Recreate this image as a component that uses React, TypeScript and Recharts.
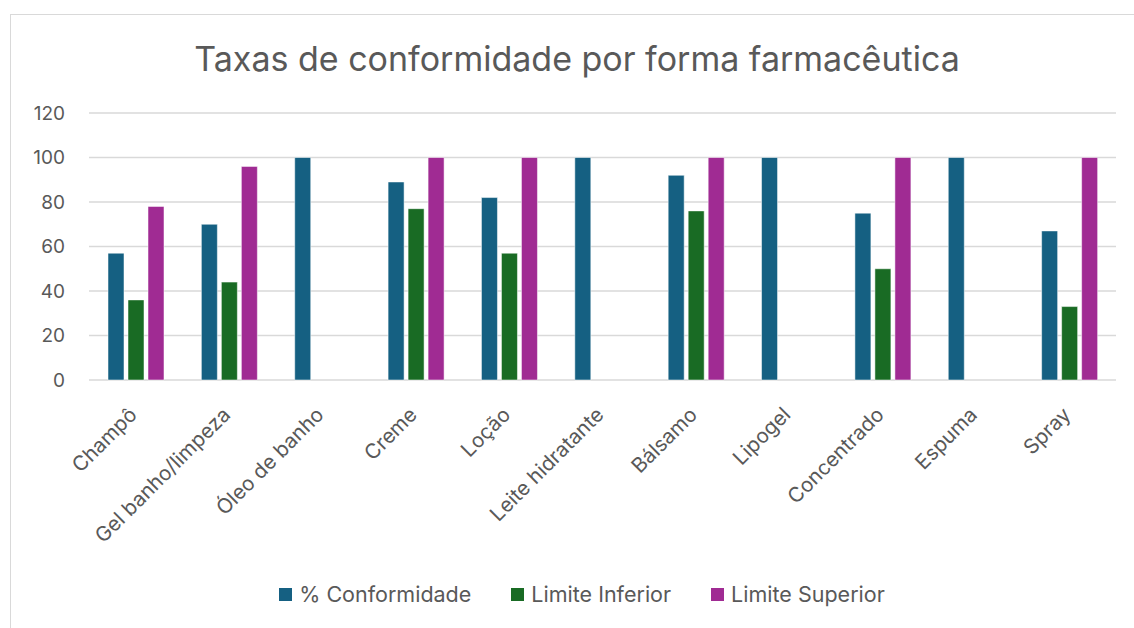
import React from 'react';
import { BarChart, Bar, XAxis, YAxis, CartesianGrid, Legend } from 'recharts';

const categories = ['Champô', 'Gel banho/limpeza', 'Óleo de banho', 'Creme', 'Loção', 'Leite hidratante', 'Bálsamo', 'Lipogel', 'Concentrado', 'Espuma', 'Spray'];
const conformidade = [57, 70, 100, 89, 82, 100, 92, 100, 75, 100, 67];
const limiteInferior: (number | null)[] = [36, 44, null, 77, 57, null, 76, null, 50, null, 33];
const limiteSuperior: (number | null)[] = [78, 96, null, 100, 100, null, 100, null, 100, null, 100];
const yTicks = [0, 20, 40, 60, 80, 100, 120];
const seriesNames = ['% Conformidade', 'Limite Inferior', 'Limite Superior'];
const seriesColors = ['#156082', '#196B24', '#A02B93'];

const data = categories.map((c, i) => ({
  name: c,
  conf: conformidade[i],
  inf: limiteInferior[i],
  sup: limiteSuperior[i],
}));

const FONT = 'Inter, "Open Sans", sans-serif';
const TEXT = '#595959';

const XTick = (props: any) => {
  const { x, payload } = props;
  return (
    <g transform={`translate(${x + 2.5},${416})`}>
      <text x={0} y={0} textAnchor="end" fill={TEXT} fontSize={20.5} fontFamily={FONT} transform="rotate(-45)">
        {payload.value}
      </text>
    </g>
  );
};

const LegendContent = () => (
  <div style={{ display: 'flex', justifyContent: 'center', alignItems: 'center', fontFamily: FONT, fontSize: 21.5, lineHeight: '27px', color: TEXT, paddingLeft: 48 }}>
    {seriesNames.map((n, i) => (
      <div key={n} style={{ display: 'flex', alignItems: 'center', marginRight: i < 2 ? 40 : 0 }}>
        <span style={{ width: 13, height: 13, background: seriesColors[i], display: 'inline-block', marginRight: 7 }} />
        <span>{n}</span>
      </div>
    ))}
  </div>
);

export default function App() {
  return (
    <div style={{ position: 'absolute', left: 0, top: 0, width: 1134, height: 628, background: '#fff', overflow: 'hidden' }}>
      <div style={{ position: 'absolute', left: 10, top: 14, width: 1140, height: 640, border: '1.5px solid #d9d9d9', boxSizing: 'border-box' }} />
      <div style={{ position: 'absolute', left: 10, top: 38, width: 1134, textAlign: 'center', fontFamily: FONT, fontSize: 34, lineHeight: 'normal', color: TEXT, whiteSpace: 'nowrap' }}>
        Taxas de conformidade por forma farmacêutica
      </div>
      <div style={{ position: 'absolute', left: 0, top: 0 }}>
        <BarChart width={1134} height={628} data={data} margin={{ top: 113, right: 18, bottom: 11, left: 0 }} barGap={4} barSize={16}>
          <CartesianGrid vertical={false} stroke="#d9d9d9" strokeWidth={1.5} />
          <XAxis dataKey="name" axisLine={false} tickLine={false} tickSize={0} tickMargin={0} height={201} interval={0} tick={<XTick />} />
          <YAxis width={89} domain={[0, 120]} ticks={yTicks} axisLine={false} tickLine={false} tickSize={0} tickMargin={24} tick={{ fill: TEXT, fontSize: 19, fontFamily: FONT }} />
          <Legend verticalAlign="bottom" height={36} content={<LegendContent />} />
          <Bar dataKey="conf" name={seriesNames[0]} fill={seriesColors[0]} stroke="#ffffff" strokeOpacity={0.5} strokeWidth={1} isAnimationActive={false} />
          <Bar dataKey="inf" name={seriesNames[1]} fill={seriesColors[1]} stroke="#ffffff" strokeOpacity={0.5} strokeWidth={1} isAnimationActive={false} />
          <Bar dataKey="sup" name={seriesNames[2]} fill={seriesColors[2]} stroke="#ffffff" strokeOpacity={0.5} strokeWidth={1} isAnimationActive={false} />
        </BarChart>
      </div>
    </div>
  );
}
